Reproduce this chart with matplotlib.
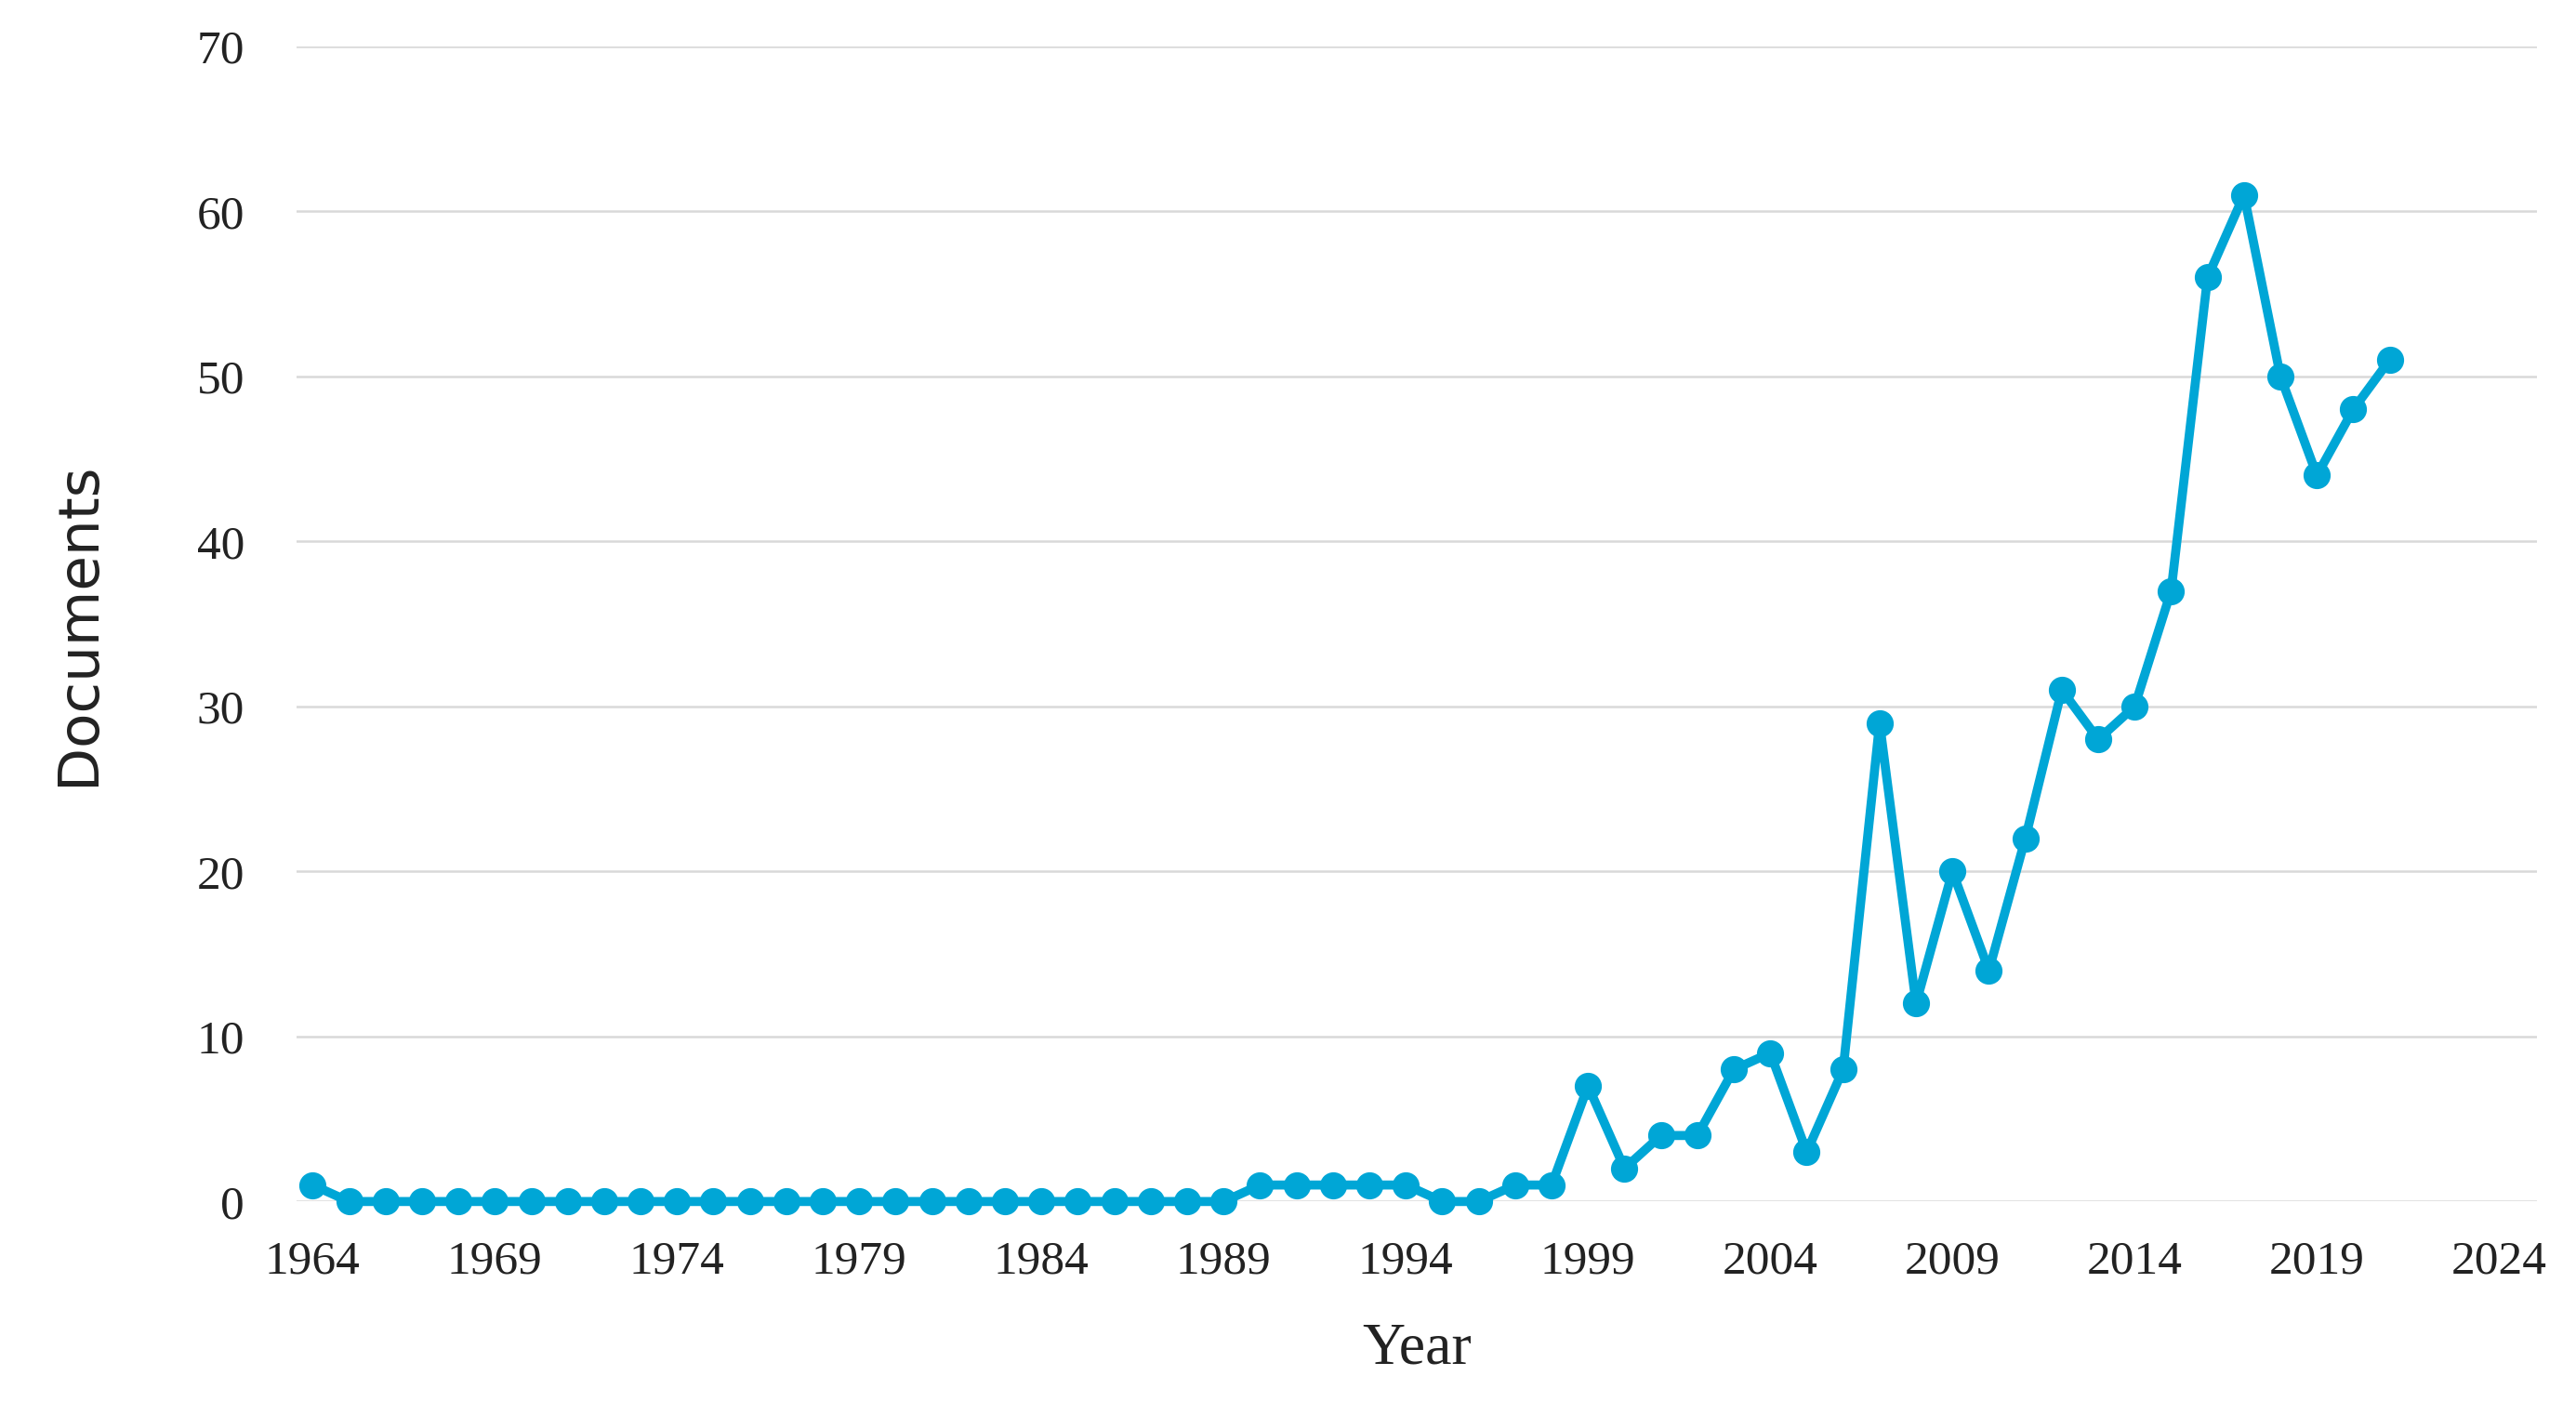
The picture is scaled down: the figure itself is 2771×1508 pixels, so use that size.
import matplotlib.pyplot as plt

years = list(range(1964, 2022))
documents = [1] + [0] * 25 + [1, 1, 1, 1, 1, 0, 0, 1, 1,
             7, 2, 4, 4, 8, 9, 3, 8, 29, 12, 20, 14, 22, 31, 28, 30, 37,
             56, 61, 50, 44, 48, 51]
xticks = list(range(1964, 2025, 5))
yticks = list(range(0, 71, 10))

plt.rcParams['font.family'] = ['Liberation Serif', 'DejaVu Serif']

fig = plt.figure(figsize=(27.71, 15.08), dpi=100)
ax = fig.add_axes([0.115, 0.143, 0.87, 0.824])

ax.plot(years, documents, color='#00A6D6', linewidth=7, marker='o', markersize=20, clip_on=False, zorder=3)

ax.set_xlim(1963.55, 2025.05)
ax.set_ylim(0, 70)
ax.set_xticks(xticks)
ax.set_yticks(yticks)
ax.grid(True, axis='y', color='#d9d9d9', linewidth=1.8)
for s in ax.spines.values():
    s.set_visible(False)
ax.tick_params(length=0, labelsize=37, colors='#222222')
ax.tick_params(axis='x', pad=30)
ax.tick_params(axis='y', pad=40)
ax.set_xlabel('Year', fontsize=46, labelpad=30, color='#222222')
ax.set_ylabel('Documents', fontsize=44, labelpad=70, color='#222222', family=['DejaVu Sans'])

plt.savefig('out.png', dpi=100)
